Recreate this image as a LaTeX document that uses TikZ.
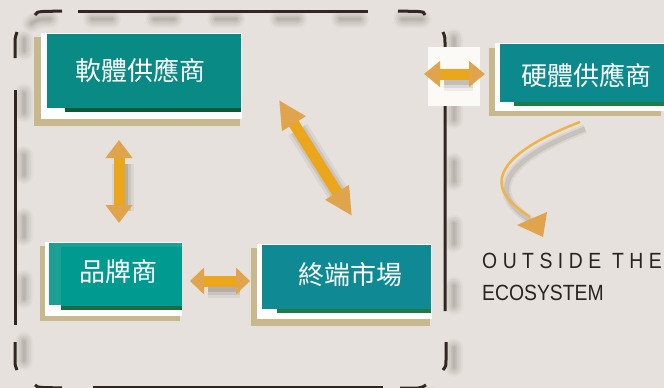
\documentclass[tikz,border=0pt]{standalone}
\usepackage{fontspec}
\usetikzlibrary{arrows.meta}
\newfontfamily\cjk{Noto Sans CJK TC}
\newfontfamily\latn[FakeStretch=0.88]{Liberation Sans}
\newfontfamily\latsp[FakeStretch=0.88,LetterSpace=25]{Liberation Sans}
\definecolor{bgc}{HTML}{E6E1DC}
\definecolor{framec}{HTML}{302622}
\definecolor{shadowc}{HTML}{4A3C36}
\definecolor{tanc}{HTML}{C8B88E}
\definecolor{tealA}{HTML}{0A8A84}
\definecolor{tealB}{HTML}{0B898C}
\definecolor{tealC}{HTML}{1CA096}
\definecolor{tealCi}{HTML}{019A90}
\definecolor{tealD}{HTML}{0F8A94}
\definecolor{stripA}{HTML}{075A3A}
\definecolor{stripB}{HTML}{1F7A45}
\definecolor{stripC}{HTML}{1E6A40}
\definecolor{shaftc}{HTML}{ECA61B}
\definecolor{headc}{HTML}{DFA44C}
\definecolor{curvec}{HTML}{EFB34A}
\definecolor{textc}{HTML}{2B2320}
\definecolor{boxwhite}{HTML}{FCFAF7}
\tikzset{
  framestroke/.style={draw=framec, line width=3pt},
  frameshadow/.style={draw=shadowc, line cap=round, dash pattern=on 20pt off 42pt, dash phase=8pt, rounded corners=20pt},
  tanlayer/.style={fill=tanc},
  whitelayer/.style={fill=white},
  cjklabel/.style={text=white, inner sep=0pt, font=\cjk\fontsize{26}{30}\selectfont},
  latlabel/.style={text=textc, inner sep=0pt, anchor=base west, font=\fontsize{22}{26}\selectfont}
}
\newcommand\dblarrow[4]{%
  \foreach \w/\o in {22/.07,16/.11,10/.16}{
    \draw[line width=\w pt, shadowc, opacity=\o, shorten <=#3pt, shorten >=#3pt]
      ([shift={(4,6)}]#1) -- ([shift={(4,6)}]#2);}
  \draw[line width=11pt, shaftc,
    {Triangle[length=#3pt,width=#4pt,color=headc]}-{Triangle[length=#3pt,width=#4pt,color=headc]}]
    (#1) -- (#2);
}
\begin{document}
\begin{tikzpicture}[x=1pt,y=-1pt]
\fill[bgc] (0,0) rectangle (664,388);
\useasboundingbox (0,0) rectangle (664,388);

% frame shadows (soft blobs)
\foreach \w/\o in {18/.035,14/.05,10/.06,6/.07,3/.08}{
  \draw[frameshadow, line width=\w pt, opacity=\o] (24,19) rectangle (454,396);}

% dashed frame pieces
\draw[framestroke] (35,15) .. controls (37,12) .. (43,11.5) -- (62,11);
\draw[framestroke] (78,11) -- (368,11);
\draw[framestroke] (398,11) -- (418,11.5) .. controls (424,12) .. (425,15);
\draw[framestroke] (17,32) .. controls (15,38) .. (15,45) -- (15,58);
\draw[framestroke] (15,90) -- (15,325);
\draw[framestroke] (15,342) -- (15,358) .. controls (15,365) .. (17,370);
\draw[framestroke] (35,385) .. controls (37,387) .. (43,387.5) -- (62,388);
\draw[framestroke] (93,387) -- (383,387);
\draw[framestroke] (400,388) -- (418,388) .. controls (423,387) .. (426,385);
\draw[framestroke] (443,32) .. controls (445,37) .. (445,45) -- (445,311);
\draw[framestroke] (446,342) -- (446,360) .. controls (446,366) .. (443,370);

% white patch behind top-right arrow
\fill[boxwhite] (428,47) rectangle (480,106);

% Box 1: software suppliers
\fill[tanlayer] (34,37) rectangle (240,126);
\fill[whitelayer] (41,33) rectangle (242,119);
\fill[tealA] (47,34) rectangle (241,108);
\fill[stripA] (65,108) rectangle (241,112);
\node[cjklabel] (sw) at (140,70) {軟體供應商};

% Box 2: hardware suppliers
\fill[tanlayer] (489,48) rectangle (661,116);
\fill[whitelayer] (495,43) rectangle (664,111);
\fill[tealB] (500,44) rectangle (664,102);
\fill[stripB] (514,102) rectangle (664,106);
\node[cjklabel] (hw) at (586,75) {硬體供應商};

% Box 3: brands
\fill[tanlayer] (40,246) rectangle (180,321);
\fill[whitelayer] (45,242) rectangle (182,316);
\fill[tealC] (49,243) rectangle (182,305);
\fill[tealCi] (61,247) rectangle (182,306);
\fill[stripC] (61,306) rectangle (182,310);
\node[cjklabel] (br) at (118,272) {品牌商};

% Box 4: end market
\fill[tanlayer] (251,248) rectangle (430,326);
\fill[whitelayer] (257,244) rectangle (432,319);
\fill[tealD] (262,245) rectangle (431,309);
\fill[stripB] (277,309) rectangle (431,313);
\node[cjklabel] (em) at (350,275) {終端市場};

% arrow end points
\coordinate (a1s) at (424,74);  \coordinate (a1e) at (485,74);
\coordinate (a2s) at (119,140); \coordinate (a2e) at (119,223);
\coordinate (a3s) at (279,100); \coordinate (a3e) at (352,216);
\coordinate (a4s) at (190,281); \coordinate (a4e) at (250,281);

\dblarrow{a1s}{a1e}{16}{25}
\dblarrow{a2s}{a2e}{18}{26}
\dblarrow{a3s}{a3e}{28}{26}
\dblarrow{a4s}{a4e}{14}{26}

% curved arrow out of the ecosystem
\coordinate (c0) at (580,122);
\coordinate (c1) at (530,217);
\coordinate (ct1) at (517,225);
\coordinate (ct2) at (547,212);
\coordinate (ct3) at (543,237);
\foreach \w/\o in {9/.07,5/.12}{
  \draw[shadowc, line width=\w pt, opacity=\o]
    ([shift={(5,7)}]c0) .. controls ([shift={(5,7)}]520,145) and ([shift={(5,7)}]495,168) .. ([shift={(5,7)}]503,190)
    .. controls ([shift={(5,7)}]508,202) and ([shift={(5,7)}]520,210) .. ([shift={(5,7)}]c1);}
\draw[curvec, line width=2.5pt] (c0) .. controls (520,145) and (495,168) .. (503,190)
    .. controls (508,202) and (520,210) .. (c1);
\fill[headc] (ct1) -- (ct2) -- (ct3) -- cycle;

% outside text
\node[latlabel, font=\latsp\fontsize{22}{26}\selectfont] (out1) at (482,268) {OUTSIDE THE};
\node[latlabel, font=\latn\fontsize{22}{26}\selectfont] (out2) at (482,300) {ECOSYSTEM};
\end{tikzpicture}
\end{document}
